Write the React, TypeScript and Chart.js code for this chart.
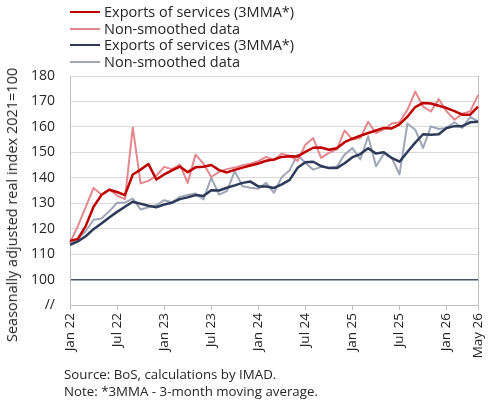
import React, { useEffect, useRef } from 'react';
import Chart from 'chart.js/auto';

const months = [
  'Jan 22', 'Feb 22', 'Mar 22', 'Apr 22', 'May 22', 'Jun 22', 'Jul 22', 'Aug 22', 'Sep 22', 'Oct 22', 'Nov 22', 'Dec 22',
  'Jan 23', 'Feb 23', 'Mar 23', 'Apr 23', 'May 23', 'Jun 23', 'Jul 23', 'Aug 23', 'Sep 23', 'Oct 23', 'Nov 23', 'Dec 23',
  'Jan 24', 'Feb 24', 'Mar 24', 'Apr 24', 'May 24', 'Jun 24', 'Jul 24', 'Aug 24', 'Sep 24', 'Oct 24', 'Nov 24', 'Dec 24',
  'Jan 25', 'Feb 25', 'Mar 25', 'Apr 25', 'May 25', 'Jun 25', 'Jul 25', 'Aug 25', 'Sep 25', 'Oct 25', 'Nov 25', 'Dec 25',
  'Jan 26', 'Feb 26', 'Mar 26', 'Apr 26', 'May 26',
];

const shownTicks = ['Jan 22', 'Jul 22', 'Jan 23', 'Jul 23', 'Jan 24', 'Jul 24', 'Jan 25', 'Jul 25', 'Jan 26', 'May 26'];

// red pair
const redMA = [
  115.2, 116, 121, 128.6, 133.2, 135.3, 134.4, 133.2, 141.3, 143.2, 145.4, 139.3,
  141.3, 142.9, 144.4, 142.2, 144.1, 144.3, 145, 143, 142.1, 143.1, 144, 144.8,
  145.6, 146.7, 147.2, 148.2, 148.5, 148.4, 150.2, 151.8, 151.9, 151, 151.6, 154,
  155.4, 156.5, 157.6, 158.6, 159.6, 159.4, 161, 164, 167.8, 169.4, 169.2, 168.3,
  167.4, 166.2, 164.8, 164.8, 168,
];
const redRaw = [
  114.5, 121, 128.5, 136, 133.4, 135.5, 133, 131.6, 159.8, 137.8, 138.8, 140.8,
  144.3, 143.4, 145.2, 138, 149.1, 145.6, 140.3, 142.3, 143.4, 144, 144.9, 145.5,
  146.5, 148.2, 146.9, 149.5, 148.7, 146.6, 153, 155.6, 147.8, 149.8, 151.2, 158.6,
  155, 155.6, 162, 157.6, 159, 161.3, 161.8, 166.7, 173.9, 168, 166.1, 170.9,
  166.1, 162.8, 165.2, 166.1, 172.5,
];

// navy pair
const navyMA = [
  113.6, 115, 117, 119.8, 122, 124.4, 126.6, 128.6, 130.6, 129.8, 129, 128.4,
  129.5, 130.2, 131.6, 132.3, 133.2, 132.8, 135.1, 135, 136.1, 137, 138, 138.5,
  136.6, 136.6, 136, 137.4, 139.2, 143.9, 146.1, 146.3, 144.6, 143.8, 143.8, 145.7,
  148.1, 149.3, 151.6, 149.5, 150, 147.8, 146.3, 150.1, 153.8, 157.1, 156.9, 157.1,
  159.6, 160.3, 160.3, 161.8, 162,
];
const navyRaw = [
  114.3, 116, 119, 123.5, 124, 126.8, 130.2, 130.2, 131.8, 127.5, 128.4, 129.2,
  131.2, 130.4, 132.5, 133.2, 133.8, 131.5, 140, 133.4, 134.8, 142.6, 136.7, 136.1,
  135.7, 138, 134.1, 140.3, 143, 149.1, 145.8, 143.2, 144.3, 143.9, 144.3, 149.1,
  151.7, 147.2, 156.3, 144.5, 149.5, 147.8, 141.3, 161.3, 158.9, 151.7, 160.2, 159.2,
  159.6, 161.8, 159.6, 163.9, 162.2,
];

const FONT = "'Open Sans', sans-serif";
const TEXT = '#262626';
const AXIS = '#BFBFBF';
const GRID = '#D9D9D9';

const legendItems = [
  { label: 'Exports of services (3MMA*)', color: '#C00000', width: 2.5 },
  { label: 'Non-smoothed data', color: '#E2888E', width: 2 },
  { label: 'Exports of services (3MMA*)', color: '#2E3A5A', width: 2.5 },
  { label: 'Non-smoothed data', color: '#9EA6B8', width: 2 },
];

const App: React.FC = () => {
  const canvasRef = useRef<HTMLCanvasElement>(null);
  const chartRef = useRef<Chart | null>(null);

  useEffect(() => {
    if (!canvasRef.current) return;
    const ctx = canvasRef.current.getContext('2d');
    if (!ctx) return;
    if (chartRef.current) chartRef.current.destroy();

    const last = months.length - 1;

    chartRef.current = new Chart(ctx, {
      type: 'line',
      data: {
        labels: months,
        datasets: [
          { label: 'Exports of services (3MMA*)', data: redMA, borderColor: '#C00000', borderWidth: 2.5 },
          { label: 'Exports of services (3MMA*)', data: navyMA, borderColor: '#2E3A5A', borderWidth: 2.5 },
          { label: 'Non-smoothed data', data: redRaw, borderColor: '#E2888E', borderWidth: 2 },
          { label: 'Non-smoothed data', data: navyRaw, borderColor: '#9EA6B8', borderWidth: 2 },
        ],
      },
      options: {
        responsive: true,
        maintainAspectRatio: false,
        animation: false,
        layout: { padding: { top: 76, left: 8, right: 12, bottom: 39 } },
        elements: {
          line: { tension: 0, fill: false, borderJoinStyle: 'round' },
          point: { radius: 0, hoverRadius: 0 },
        },
        plugins: {
          legend: { display: false },
          tooltip: { enabled: false },
        },
        scales: {
          x: {
            offset: false,
            afterFit: (scale: any) => {
              scale.height = 57;
              // rotated last label would otherwise push the plot in from the right
              scale.paddingLeft = 0;
              scale.paddingRight = 0;
            },
            border: { display: true, color: AXIS, width: 1 },
            grid: {
              drawOnChartArea: true,
              drawTicks: true,
              tickLength: 5,
              color: (c: any) => (c.index === last ? AXIS : 'rgba(0,0,0,0)'),
              tickColor: (c: any) => (shownTicks.includes(months[c.index]) ? AXIS : 'rgba(0,0,0,0)'),
            },
            ticks: {
              autoSkip: false,
              minRotation: 90,
              maxRotation: 90,
              padding: 3,
              color: TEXT,
              font: { family: FONT, size: 13.5 },
              callback: (_v: any, i: number) => (shownTicks.includes(months[i]) ? months[i] : ''),
            },
          },
          y: {
            min: 90,
            max: 180,
            afterFit: (scale: any) => { scale.width = 62; },
            border: { display: true, color: AXIS, width: 1 },
            grid: {
              drawTicks: false,
              color: (c: any) => (c.tick && c.tick.value === 100 ? '#44546A' : GRID),
              lineWidth: (c: any) => (c.tick && c.tick.value === 100 ? 1.5 : 1),
            },
            ticks: {
              stepSize: 10,
              padding: 15,
              color: TEXT,
              font: { family: FONT, size: 14 },
              callback: (v: any) => (v === 90 ? '//' : String(v)),
            },
          },
        },
      },
    });

    return () => {
      if (chartRef.current) chartRef.current.destroy();
      chartRef.current = null;
    };
  }, []);

  return (
    <div style={{ position: 'absolute', left: 0, top: 0, width: 490, height: 401, background: '#fff', fontFamily: FONT, color: TEXT, overflow: 'hidden' }}>
      <div style={{ position: 'absolute', left: 0, top: 0, width: 490, height: 401 }}>
        <canvas ref={canvasRef}></canvas>
      </div>

      {legendItems.map((item, i) => (
        <div key={i} style={{ position: 'absolute', left: 70, top: 12 + i * 16.7 - 9, height: 18, display: 'flex', alignItems: 'center', whiteSpace: 'nowrap' }}>
          <span style={{ display: 'inline-block', width: 30, borderTop: `${item.width}px solid ${item.color}`, marginRight: 4 }}></span>
          <span style={{ fontSize: 14.5, lineHeight: '18px' }}>{item.label}</span>
        </div>
      ))}

      <div style={{ position: 'absolute', left: 12, top: 205, transform: 'translate(-50%, -50%) rotate(-90deg)', whiteSpace: 'nowrap', fontSize: 14.5, lineHeight: '18px' }}>
        Seasonally adjusted real index 2021=100
      </div>

      <div style={{ position: 'absolute', left: 64, top: 365.5, fontSize: 13.3, lineHeight: '17px', whiteSpace: 'nowrap' }}>
        Source: BoS, calculations by IMAD.
      </div>
      <div style={{ position: 'absolute', left: 64, top: 382.5, fontSize: 13.3, lineHeight: '17px', whiteSpace: 'nowrap' }}>
        Note: *3MMA - 3-month moving average.
      </div>
    </div>
  );
};

export default App;
